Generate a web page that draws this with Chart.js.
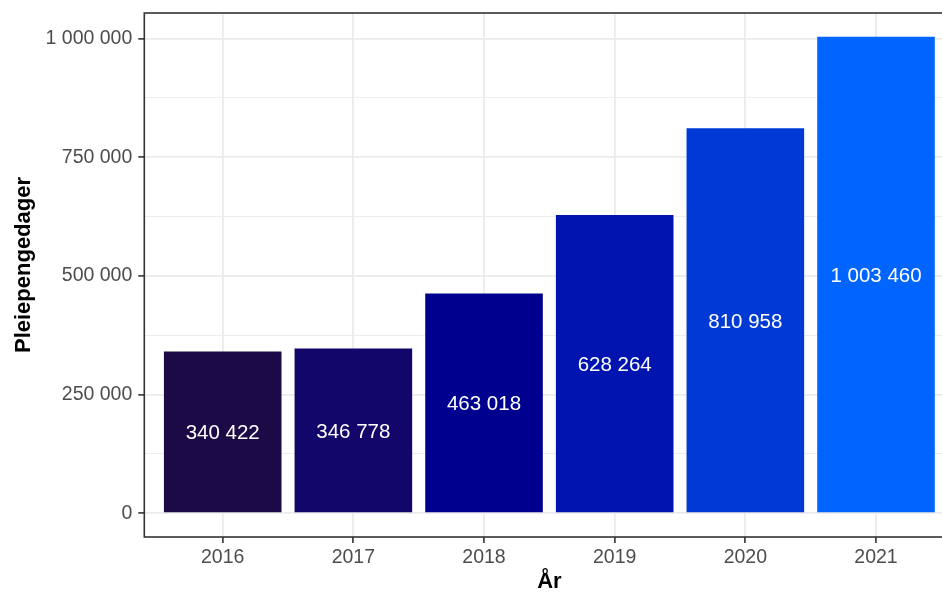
<!DOCTYPE html>
<html lang="no">
<head>
<meta charset="utf-8">
<title>Pleiepengedager per år</title>
<script src="https://cdn.jsdelivr.net/npm/chart.js@4/dist/chart.umd.min.js"></script>
<style>
  html, body { margin: 0; padding: 0; background: #fff; overflow: hidden; }
  #wrap { width: 960px; height: 600px; }
</style>
</head>
<body>
<div id="wrap"><canvas id="chart" width="960" height="600"></canvas></div>
<script>
const years = ['2016', '2017', '2018', '2019', '2020', '2021'];
const days = [340422, 346778, 463018, 628264, 810958, 1003460];
const barColors = ['#1C0A47', '#12066B', '#00008F', '#0014B0', '#0039D4', '#0064FF'];
const yTicks = [0, 125000, 250000, 375000, 500000, 625000, 750000, 875000, 1000000];

const FONT = '"Liberation Sans", Arial, Helvetica, sans-serif';
const fmt = v => String(Math.round(v)).replace(/\B(?=(\d{3})+(?!\d))/g, ' ');

// ggplot-style expansion: 5 % of the data range on each side
const yMax = Math.max(...days);
const yPad = yMax * 0.05;

const isMajor = v => v % 250000 === 0;

// white value labels in the middle of each bar
const barLabels = {
  id: 'barLabels',
  afterDatasetsDraw(chart) {
    const ctx = chart.ctx;
    const meta = chart.getDatasetMeta(0);
    const size = 20.5;
    ctx.save();
    ctx.fillStyle = '#ffffff';
    ctx.font = size + 'px ' + FONT;
    ctx.textAlign = 'center';
    ctx.textBaseline = 'alphabetic';
    meta.data.forEach((bar, i) => {
      // centre the digits (cap height ~0.716 em) on the bar's midpoint
      ctx.fillText(fmt(days[i]), bar.x, (bar.y + bar.base) / 2 + size * 0.358);
    });
    ctx.restore();
  }
};

// panel border and axis titles
const frame = {
  id: 'frame',
  afterDraw(chart) {
    const { ctx, chartArea: a } = chart;
    ctx.save();
    ctx.strokeStyle = '#333333';
    ctx.lineWidth = 1.6;
    ctx.strokeRect(a.left, a.top, a.right - a.left, a.bottom - a.top);

    ctx.fillStyle = '#000000';
    ctx.font = 'bold 22px ' + FONT;
    ctx.textAlign = 'center';
    ctx.textBaseline = 'alphabetic';
    ctx.fillText('År', (a.left + a.right) / 2, 588);

    ctx.translate(30, 265);
    ctx.rotate(-Math.PI / 2);
    ctx.fillText('Pleiepengedager', 0, 0);
    ctx.restore();
  }
};

new Chart(document.getElementById('chart'), {
  type: 'bar',
  data: {
    datasets: [{
      data: years.map((y, i) => ({ x: i + 1, y: days[i] })),
      backgroundColor: barColors,
      borderWidth: 0,
      categoryPercentage: 1,
      barPercentage: 0.9
    }]
  },
  options: {
    responsive: false,
    animation: false,
    devicePixelRatio: 1,
    layout: { padding: { left: 0, top: 13, right: 5.6, bottom: 0 } },
    plugins: {
      legend: { display: false },
      tooltip: { enabled: false }
    },
    scales: {
      x: {
        type: 'linear',
        min: 0.4,
        max: 6.6,
        offset: false,
        afterBuildTicks: s => { s.ticks = years.map((_, i) => ({ value: i + 1 })); },
        afterFit: s => {
          s.height = 63;
          s.paddingLeft = 0;
          s.paddingRight = 0;
        },
        border: { display: false },
        grid: {
          offset: false,
          color: '#EBEBEB',
          lineWidth: 1.8,
          tickColor: '#333333',
          tickLength: 6,
          tickWidth: 1.6
        },
        ticks: {
          callback: v => years[v - 1],
          color: '#4D4D4D',
          font: { family: FONT, size: 19.5 },
          padding: 3,
          maxRotation: 0
        }
      },
      y: {
        min: -yPad,
        max: yMax + yPad,
        afterBuildTicks: s => { s.ticks = yTicks.map(v => ({ value: v })); },
        afterFit: s => {
          s.width = 144.3;
          s.paddingTop = 0;
          s.paddingBottom = 0;
        },
        border: { display: false },
        grid: {
          color: '#EBEBEB',
          lineWidth: c => isMajor(c.tick.value) ? 1.8 : 0.9,
          tickColor: c => isMajor(c.tick.value) ? '#333333' : 'rgba(0,0,0,0)',
          tickLength: 6,
          tickWidth: 1.6
        },
        ticks: {
          callback: v => isMajor(v) ? fmt(v) : '',
          color: '#4D4D4D',
          font: { family: FONT, size: 19.5 },
          padding: 6
        }
      }
    }
  },
  plugins: [barLabels, frame]
});
</script>
</body>
</html>
